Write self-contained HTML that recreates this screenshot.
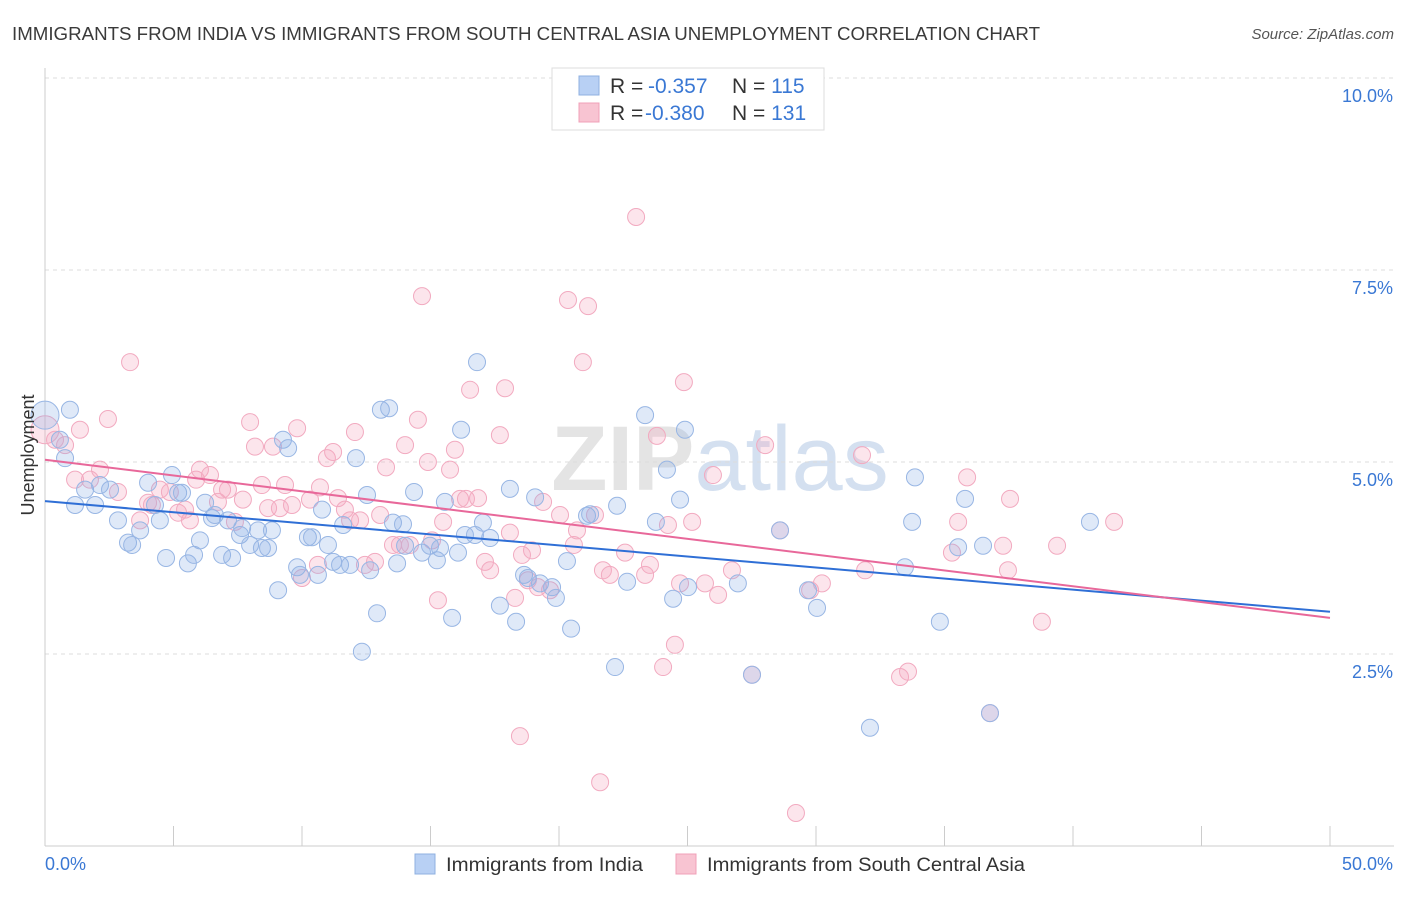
<!DOCTYPE html>
<html><head><meta charset="utf-8"><style>
body{margin:0;background:#fff;font-family:"Liberation Sans",sans-serif;}
svg text{font-family:"Liberation Sans",sans-serif;}
</style></head><body>
<svg id="chart" width="1406" height="892" xmlns="http://www.w3.org/2000/svg">
<text x="12" y="40" font-size="18" fill="#3a3a3a" textLength="1028" lengthAdjust="spacingAndGlyphs">IMMIGRANTS FROM INDIA VS IMMIGRANTS FROM SOUTH CENTRAL ASIA UNEMPLOYMENT CORRELATION CHART</text>
<text x="1394" y="39" font-size="15" fill="#555" text-anchor="end" font-style="italic">Source: ZipAtlas.com</text>
<text x="720" y="490" font-size="92" fill="#e4e4e4" text-anchor="middle" font-family="Liberation Serif" font-weight="bold">ZIP<tspan fill="#d4e0f0" font-family="Liberation Sans" font-weight="normal">atlas</tspan></text>
<g id="grid"></g>
<g id="pts"></g>
<g id="trend"></g>
<text transform="translate(34,455) rotate(-90)" font-size="18" fill="#333" text-anchor="middle">Unemployment</text>
<g>
<rect x="552" y="68" width="272" height="62" fill="#fff" stroke="#ddd"/>
<rect x="579" y="76" width="20" height="19" fill="#b8d0f4" stroke="#8fb0e0"/>
<rect x="579" y="103" width="20" height="19" fill="#f8c4d2" stroke="#f0a0b8"/>
<text x="610" y="93" font-size="21" fill="#333">R = <tspan x="648" fill="#3a78d4">-0.357</tspan><tspan x="732">N = </tspan><tspan fill="#3a78d4">115</tspan></text>
<text x="610" y="120" font-size="21" fill="#333">R = <tspan x="645" fill="#3a78d4">-0.380</tspan><tspan x="732">N = </tspan><tspan fill="#3a78d4">131</tspan></text>
</g>
<g>
<rect x="415" y="854" width="20" height="20" fill="#b8d0f4" stroke="#8fb0e0"/>
<text x="446" y="871" font-size="19" fill="#333" textLength="197" lengthAdjust="spacingAndGlyphs">Immigrants from India</text>
<rect x="676" y="854" width="20" height="20" fill="#f8c4d2" stroke="#f0a0b8"/>
<text x="707" y="871" font-size="19" fill="#333" textLength="318" lengthAdjust="spacingAndGlyphs">Immigrants from South Central Asia</text>
</g>
</svg>
<script>
const yTicks=[2.5,5.0,7.5,10.0];
const yTickLabels=["2.5%","5.0%","7.5%","10.0%"];
const xTickCount=10;
const xLabels=["0.0%","50.0%"];
const indiaX=[0,0.97,0.58,0.78,1.17,1.56,1.95,2.14,2.53,2.84,3.23,3.39,3.70,4.01,4.28,4.47,4.71,4.94,5.18,5.33,5.56,5.80,6.03,6.23,6.50,6.61,6.89,7.12,7.28,7.59,7.67,7.98,8.29,8.44,8.68,8.83,9.07,9.26,9.46,9.81,9.92,10.23,10.39,10.62,10.78,11.01,11.21,11.48,11.60,11.87,12.10,12.33,12.53,12.65,12.92,13.07,13.39,13.54,13.70,13.93,14.01,14.36,14.67,14.98,15.25,15.37,15.56,15.84,16.07,16.19,16.34,16.73,16.81,17.04,17.32,17.70,18.09,18.33,18.64,18.79,19.07,19.26,19.73,19.88,20.31,20.47,21.09,21.21,22.18,22.26,22.65,23.35,23.77,24.20,24.44,24.71,24.90,25.02,26.96,28.60,29.69,30.04,32.10,33.46,33.74,33.85,34.82,35.53,35.80,36.50,40.66,27.51,36.77];
const indiaY=[5.61,5.68,5.29,5.05,4.44,4.64,4.44,4.70,4.64,4.24,3.95,3.92,4.11,4.73,4.44,4.24,3.75,4.83,4.60,4.60,3.68,3.79,3.98,4.47,4.27,4.31,3.79,4.24,3.75,4.05,4.14,3.92,4.11,3.88,3.88,4.11,3.33,5.29,5.18,3.63,3.53,4.02,4.02,3.53,4.38,3.92,3.70,3.66,4.18,3.66,5.05,2.53,4.57,3.59,3.03,5.68,5.70,4.21,3.68,4.19,3.91,4.61,3.82,3.91,3.72,3.88,4.48,2.97,3.82,5.42,4.05,4.05,6.30,4.21,4.01,3.13,4.65,2.92,3.53,3.49,4.54,3.42,3.37,3.23,3.71,2.83,4.30,4.32,2.33,4.43,3.44,5.61,4.22,4.90,3.22,4.51,5.42,3.37,3.42,4.11,3.33,3.10,1.54,3.63,4.22,4.80,2.92,3.89,4.52,3.91,4.22,2.23,1.73];
const scaX=[0,0.39,0.78,1.17,1.36,1.75,2.14,2.45,2.84,3.31,3.70,4.01,4.16,4.47,4.86,5.18,5.45,5.64,5.88,6.03,6.42,6.73,6.89,7.12,7.39,7.70,7.98,8.17,8.44,8.68,8.87,9.14,9.34,9.61,9.81,10.00,10.31,10.62,10.70,10.97,11.21,11.40,11.67,11.87,12.06,12.26,12.45,12.84,13.04,13.27,13.54,13.81,14.01,14.20,14.51,14.67,14.90,15.06,15.29,15.49,15.76,15.95,16.15,16.38,16.54,16.85,17.12,17.32,17.70,17.90,18.09,18.29,18.48,18.56,18.79,18.95,19.18,19.38,19.65,20.04,20.35,20.58,20.70,20.93,21.13,21.40,21.60,21.71,21.98,22.57,23.00,23.35,23.54,23.81,24.05,24.24,24.51,24.71,24.86,25.18,25.68,25.99,26.19,26.73,27.51,28.02,28.60,29.22,29.77,30.23,31.79,31.91,33.27,33.58,35.29,35.53,35.88,36.77,37.28,37.47,37.55,38.79,39.38,41.60];
const scaY=[5.42,5.29,5.22,4.77,5.42,4.77,4.90,5.56,4.61,6.30,4.24,4.47,4.44,4.64,4.61,4.34,4.38,4.24,4.77,4.90,4.83,4.48,4.64,4.64,4.22,4.51,5.52,5.20,4.70,4.40,5.20,4.40,4.70,4.44,5.44,3.49,4.51,3.66,4.67,5.05,5.13,4.53,4.38,4.24,5.39,4.24,3.66,3.70,4.31,4.93,3.92,3.92,5.22,3.92,5.55,7.16,5.00,3.98,3.20,4.22,4.90,5.16,4.52,4.52,5.94,4.53,3.70,3.59,5.35,5.96,4.08,3.23,1.43,3.79,3.46,3.85,3.37,4.48,3.33,4.31,7.11,3.92,4.11,6.30,7.03,4.31,0.83,3.59,3.53,3.82,8.19,3.53,3.66,5.34,2.33,4.18,2.62,3.42,6.04,4.22,3.42,4.83,3.27,3.59,2.23,5.22,4.11,0.43,3.33,3.42,5.09,3.59,2.20,2.27,3.82,4.22,4.80,1.73,3.91,3.59,4.52,2.92,3.91,4.22];
const indiaTrend=[4.49,3.05];
const scaTrend=[5.03,2.97];
const NS="http://www.w3.org/2000/svg";
const X0=45,X1=1330,Y0=846,PPY=76.8;
const sx=v=>X0+(v/50)*(X1-X0);
const sy=v=>Y0-v*PPY;
function mk(tag,attrs,parent){const e=document.createElementNS(NS,tag);for(const k in attrs)e.setAttribute(k,attrs[k]);parent.appendChild(e);return e;}
const grid=document.getElementById('grid');
yTicks.forEach((t,i)=>{
  const l=mk('line',{x1:X0,x2:1394,y1:sy(t),y2:sy(t),stroke:'#ddd','stroke-dasharray':'4,4'},grid);
  
  
  const tx=mk('text',{x:1393,y:sy(t)+24,'font-size':18,fill:'#3a78d4','text-anchor':'end'},grid);
  tx.textContent=yTickLabels[i];
  
  
});
const ax=mk('line',{x1:X0,x2:X0,y1:68,y2:Y0,stroke:'#ccc'},grid);


const bx=mk('line',{x1:X0,x2:1394,y1:Y0,y2:Y0,stroke:'#ccc'},grid);


for(let i=0;i<=xTickCount;i++){
  const x=sx(i*50/xTickCount);
  const t=mk('line',{x1:x,x2:x,y1:826,y2:Y0,stroke:'#ccc'},grid);
  
  
}
[[0,'start',45],[50,'end',1393]].forEach((d,i)=>{
  const t=mk('text',{x:d[2],y:870,'font-size':18,fill:'#3a78d4','text-anchor':d[1]},grid);
  t.textContent=xLabels[i];
  
  
});
const pts=document.getElementById('pts');
function draw(xs,ys,fill,stroke,name){
  xs.forEach((v,i)=>{
    const r=(v===0)?14:8.5;
    const c=mk('circle',{cx:sx(v),cy:sy(ys[i]),r:r,fill:fill,stroke:stroke,'stroke-width':1},pts);
    
    
  });
}
draw(scaX,scaY,'rgba(244,170,192,0.3)','#f2aac0','point-south-central-asia');
draw(indiaX,indiaY,'rgba(140,175,230,0.28)','#98b6e4','point-india');
const tr=document.getElementById('trend');
const l1=mk('line',{x1:sx(0),y1:sy(indiaTrend[0]),x2:sx(50),y2:sy(indiaTrend[1]),stroke:'#2f6fd6','stroke-width':2},tr);


const l2=mk('line',{x1:sx(0),y1:sy(scaTrend[0]),x2:sx(50),y2:sy(scaTrend[1]),stroke:'#e8689a','stroke-width':2},tr);


</script>
</body></html>
